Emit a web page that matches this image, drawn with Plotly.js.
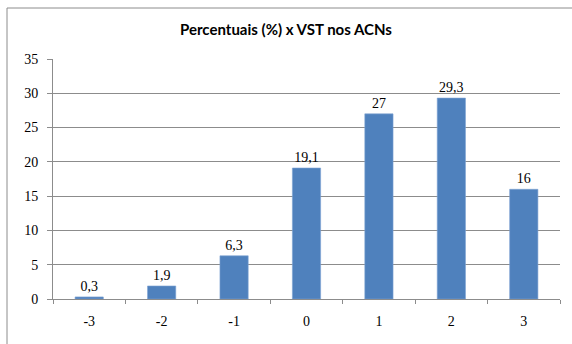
<!DOCTYPE html>
<html>
<head>
<meta charset="utf-8">
<script src="https://cdn.plot.ly/plotly-3.0.1.min.js"></script>
<style>html,body{margin:0;padding:0;background:#fff;}#chart{width:572px;height:344px;}</style>
</head>
<body>
<div id="chart"></div>
<script>
const categories = ["-3", "-2", "-1", "0", "1", "2", "3"];
const values = [0.3, 1.9, 6.3, 19.1, 27, 29.3, 16];
const yTicks = [0, 5, 10, 15, 20, 25, 30, 35];
const labels = values.map(v => String(v).replace('.', ','));

const serif = 'Times New Roman, Liberation Serif, serif';

const trace = {
  type: 'bar',
  x: categories,
  y: values,
  text: labels,
  textposition: 'outside',
  cliponaxis: false,
  textfont: {family: serif, size: 14, color: '#000'},
  marker: {color: '#4F81BD', line: {color: '#7EA3D3', width: 0.6}},
  hoverinfo: 'none'
};

const layout = {
  width: 572, height: 344,
  margin: {l: 53, r: 12, t: 59, b: 45},
  paper_bgcolor: '#fff', plot_bgcolor: '#fff',
  showlegend: false,
  bargap: 0.61,
  title: {
    text: '<b>Percentuais (%) x VST nos ACNs</b>',
    font: {family: 'Lato, Open Sans, sans-serif', size: 15, color: '#000'},
    x: 0.5, xref: 'container', xanchor: 'center',
    y: 1 - 30/344, yref: 'container', yanchor: 'middle'
  },
  xaxis: {
    type: 'category',
    tickson: 'boundaries',
    ticks: 'outside', ticklen: 4, tickcolor: '#8c8c8c',
    showline: true, linecolor: '#8c8c8c', linewidth: 1,
    showgrid: false, zeroline: false,
    ticklabelstandoff: 9,
    tickfont: {family: serif, size: 14, color: '#000'},
    fixedrange: true
  },
  yaxis: {
    range: [0, 35],
    tickvals: yTicks,
    ticktext: yTicks.map(String),
    ticks: 'outside', ticklen: 5, tickcolor: '#8c8c8c',
    showline: true, linecolor: '#8c8c8c', linewidth: 1,
    showgrid: true, gridcolor: '#8c8c8c', gridwidth: 1,
    zeroline: false,
    ticklabelstandoff: 6,
    tickfont: {family: serif, size: 14, color: '#000'},
    fixedrange: true
  },
  shapes: [
    {type: 'line', xref: 'paper', yref: 'paper', x0: -0.0907, x1: 1.1, y0: 1.2125, y1: 1.2125, line: {color: '#8c8c8c', width: 1}},
    {type: 'line', xref: 'paper', yref: 'paper', x0: -0.0907, x1: -0.0907, y0: 1.2125, y1: -0.3, line: {color: '#8c8c8c', width: 1}}
  ]
};

Plotly.newPlot('chart', [trace], layout, {displayModeBar: false, staticPlot: true});
</script>
</body>
</html>
